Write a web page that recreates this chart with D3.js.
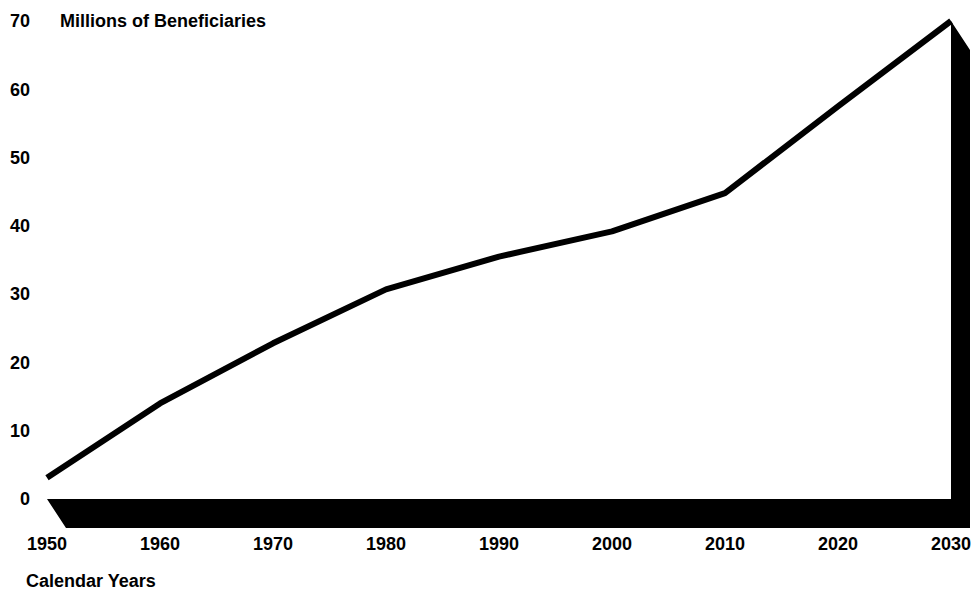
<!DOCTYPE html>
<html>
<head>
<meta charset="utf-8">
<script src="https://cdn.jsdelivr.net/npm/d3@7"></script>
<style>
  body { margin: 0; background: #fff; }
  text { font-family: "Liberation Sans", Arial, sans-serif; font-weight: bold; fill: #000; }
</style>
</head>
<body>
<svg id="chart" width="974" height="590"></svg>
<script>
// data
const years = [1950, 1960, 1970, 1980, 1990, 2000, 2010, 2020, 2030];
const beneficiaries = [3.1, 14.0, 22.8, 30.7, 35.5, 39.2, 44.8, 57.5, 70.0];
const yTicks = [0, 10, 20, 30, 40, 50, 60, 70];
const yTitle = "Millions of Beneficiaries";
const xTitle = "Calendar Years";

const width = 974;
const height = 590;
const margin = { left: 47, right: 23, top: 21, bottom: 91 };
const depth = { dx: 19, dy: 29 };  // the 3d "floor" and "wall"
const fontSize = 18;

const svg = d3.select("#chart");

const xScale = d3.scaleLinear()
  .domain([1950, 2030])
  .range([margin.left, width - margin.right]);

const yScale = d3.scaleLinear()
  .domain([0, 70])
  .range([height - margin.bottom, margin.top]);

const x0 = xScale(1950), x1 = xScale(2030);
const y0 = yScale(0), yTop = yScale(70);

// black floor + right wall
svg.append("path")
  .attr("d", [
    [x0, y0], [x1, y0], [x1, yTop],
    [x1 + depth.dx, yTop + depth.dy],
    [x1 + depth.dx, y0 + depth.dy],
    [x0 + depth.dx, y0 + depth.dy]
  ].map((p, i) => (i ? "L" : "M") + p[0] + "," + p[1]).join("") + "Z")
  .attr("fill", "#000");

// line
const line = d3.line()
  .x((d, i) => xScale(years[i]))
  .y(d => yScale(d));

svg.append("path")
  .datum(beneficiaries)
  .attr("d", line)
  .attr("fill", "none")
  .attr("stroke", "#000")
  .attr("stroke-width", 6)
  .attr("stroke-linejoin", "round");

// y labels
svg.append("g")
  .selectAll("text")
  .data(yTicks)
  .enter()
  .append("text")
  .attr("x", 30)
  .attr("y", d => yScale(d))
  .attr("dy", "0.35em")
  .attr("text-anchor", "end")
  .attr("font-size", fontSize + "px")
  .text(d => d);

// x labels
svg.append("g")
  .selectAll("text")
  .data(years)
  .enter()
  .append("text")
  .attr("x", d => xScale(d))
  .attr("y", 550)
  .attr("text-anchor", "middle")
  .attr("font-size", fontSize + "px")
  .text(d => d);

// titles
svg.append("text")
  .attr("x", 60)
  .attr("y", 27)
  .attr("font-size", fontSize + "px")
  .text(yTitle);

svg.append("text")
  .attr("x", 26)
  .attr("y", 587)
  .attr("font-size", fontSize + "px")
  .text(xTitle);
</script>
</body>
</html>
